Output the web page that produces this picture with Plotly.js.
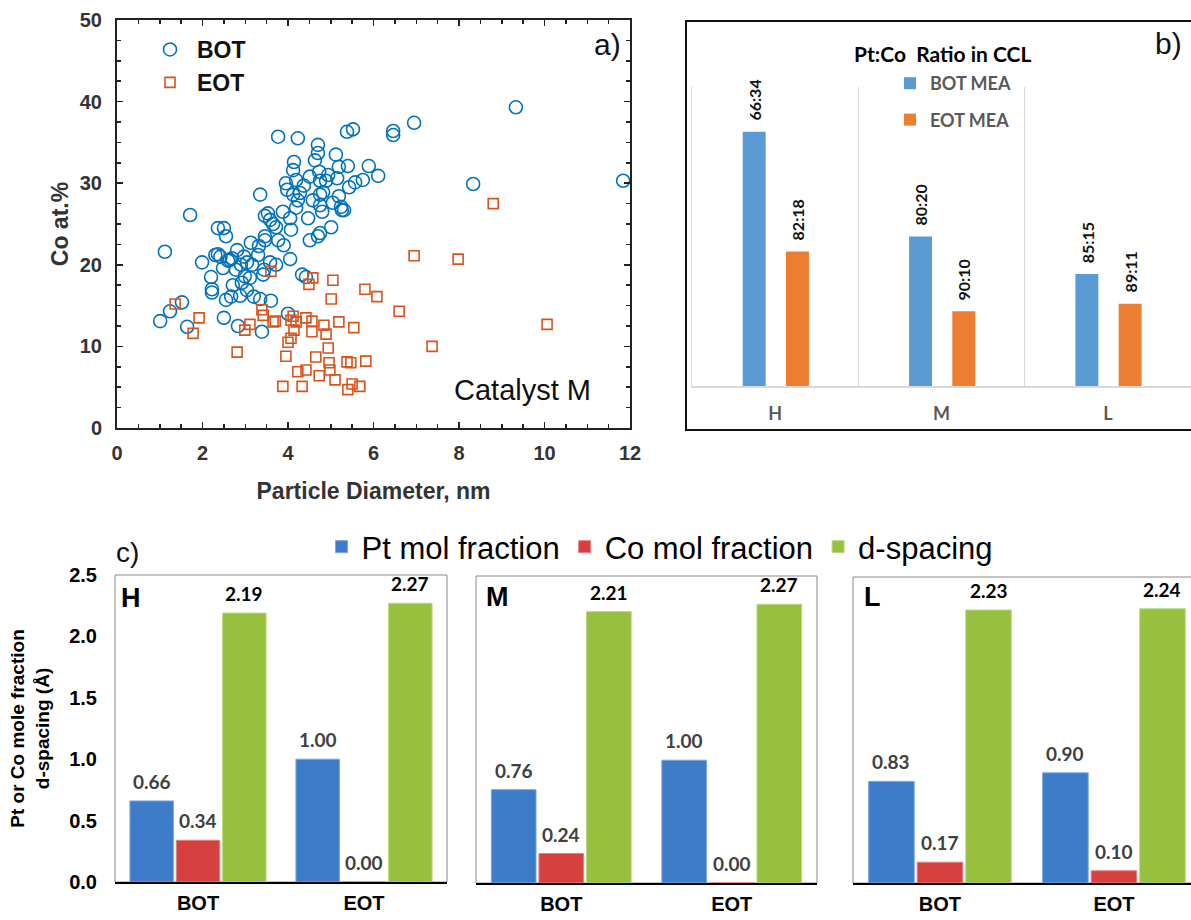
<!DOCTYPE html>
<html><head><meta charset="utf-8">
<script src="https://cdn.plot.ly/plotly-3.0.1.min.js"></script>
<style>html,body{margin:0;padding:0;background:#fff}</style>
</head><body><div id="chart" style="width:1191px;height:920px"></div>
<script>
// ---------- Panel a: Co at.% vs particle diameter (Catalyst M) ----------
const botDiameter = [1.01,1.24,1.52,1.64,1.12,1.71,1.99,2.20,2.22,2.22,2.36,2.36,2.48,2.50,2.55,2.55,2.50,2.64,2.67,2.69,
  2.71,2.78,2.81,2.83,2.88,2.90,2.92,2.97,2.99,3.04,3.04,3.11,3.13,3.16,3.20,3.30,3.32,3.35,3.39,3.44,
  3.46,3.46,3.35,3.42,3.46,3.53,3.58,3.58,3.60,3.65,3.72,3.77,3.77,3.72,3.88,3.95,3.98,4.00,4.05,4.07,
  4.12,4.14,4.12,4.19,4.23,4.23,4.19,4.28,4.33,4.37,4.42,4.47,4.51,4.51,4.58,4.63,4.70,4.70,4.73,4.75,
  4.75,4.75,4.70,4.75,4.80,4.82,4.89,4.94,5.01,5.05,5.12,5.15,5.19,5.19,5.24,5.26,5.31,5.38,5.40,5.43,
  5.52,5.57,5.75,5.89,6.11,6.46,6.46,6.95,8.33,9.33,11.84,2.42,3.90,4.05,2.30,2.60];
const botCo = [13.1,14.3,15.4,12.4,21.6,26.1,20.3,18.5,17.0,16.6,24.5,21.3,19.6,24.5,23.5,15.7,13.5,20.6,16.1,20.8,
  17.5,19.4,21.8,12.5,16.2,20.0,17.8,21.0,18.6,16.9,20.3,18.4,22.7,20.0,16.1,21.2,22.3,15.8,11.8,19.4,
  23.5,23.0,28.6,18.8,26.0,26.3,25.5,20.3,15.6,25.0,24.6,35.7,23.0,20.0,26.5,30.0,29.2,14.0,25.7,24.3,
  31.6,32.6,28.6,30.4,35.5,27.9,27.0,28.8,18.8,29.7,18.5,25.7,23.0,30.8,27.9,32.8,34.7,33.7,31.4,30.3,
  28.6,27.3,23.5,23.9,26.5,28.9,30.3,31.0,24.6,27.6,33.5,30.6,32.0,28.4,27.1,26.7,26.7,36.3,32.1,29.5,
  36.6,30.1,30.4,32.1,30.9,35.9,36.4,37.4,29.9,39.3,30.3,21.0,22.4,20.7,21.2,20.5];
const eotDiameter = [1.36,1.78,1.92,2.81,2.99,3.11,3.39,3.42,3.65,3.60,3.70,3.88,3.95,4.00,4.07,4.07,4.12,4.14,4.19,4.23,
  4.33,4.42,4.42,4.49,4.58,4.56,4.56,4.65,4.73,4.84,4.89,4.94,4.96,4.98,5.01,5.05,5.10,5.19,5.38,5.40,
  5.47,5.50,5.54,5.68,5.80,5.82,6.08,6.60,6.95,7.37,7.98,8.80,10.06];
const eotCo = [15.2,11.6,13.5,9.3,12.0,12.7,14.5,13.8,13.0,19.2,13.1,5.1,8.8,10.5,13.2,11.0,13.7,12.0,13.0,6.9,
  5.1,7.1,13.5,17.6,18.4,13.1,11.8,8.7,6.4,12.6,11.5,9.8,8.0,7.1,15.8,18.1,5.9,13.0,8.1,4.7,
  8.0,5.4,12.3,5.1,17.0,8.2,16.1,14.3,21.1,10.0,20.7,27.5,12.7];

// ---------- Panel b: Pt:Co ratio in CCL ----------
const ccCategories = ['H','M','L'];
const ccBotCo = [34, 20, 15];
const ccEotCo = [18, 10, 11];
const ccBotLabels = ['66:34','80:20','85:15'];
const ccEotLabels = ['82:18','90:10','89:11'];

// ---------- Panel c: mole fractions and d-spacing ----------
const stages = ['BOT','EOT'];
const ptH = [0.66, 1.00], coH = [0.34, 0.00], dH = [2.19, 2.27];
const ptM = [0.76, 1.00], coM = [0.24, 0.00], dM = [2.21, 2.27];
const ptL = [0.83, 0.90], coL = [0.17, 0.10], dL = [2.23, 2.24];

const W = 1191, H = 920;
const px = v => v / W, py = v => 1 - v / H;
const SANS = 'Liberation Sans, Arial, sans-serif';
const CAL = 'Lato, Liberation Sans, sans-serif';

const traces = [];
traces.push({type:'scatter', mode:'markers', x: botDiameter, y: botCo, name:'BOT', xaxis:'x', yaxis:'y', legend:'legend',
  marker:{symbol:'circle-open', size:13, color:'#0072BD', line:{width:1.6, color:'#0072BD'}}});
traces.push({type:'scatter', mode:'markers', x: eotDiameter, y: eotCo, name:'EOT', xaxis:'x', yaxis:'y', legend:'legend',
  marker:{symbol:'square-open', size:10, color:'#D95319', line:{width:1.6, color:'#D95319'}}});

// panel b bars
const bW = 0.138, bOffBot = -0.195, bOffEot = 0.065;
traces.push({type:'bar', x: ccCategories, y: ccBotCo, name:'BOT MEA', xaxis:'x2', yaxis:'y2', legend:'legend2', legendgroup:'g1',
  width: bW, offset: bOffBot, marker:{color:'#5b9bd5'}});
traces.push({type:'bar', x: ccCategories, y: ccEotCo, name:'EOT MEA', xaxis:'x2', yaxis:'y2', legend:'legend2', legendgroup:'g2',
  width: bW, offset: bOffEot, marker:{color:'#ed7d31'}});

// panel c bars
const cW = 0.262;
const cSeries = [
  {name:'Pt mol fraction', color:'#3d7cc9', edge:'#79a7e0', off:-0.41, lab:'#404040'},
  {name:'Co mol fraction', color:'#d6403f', edge:'#e88080', off:-0.131, lab:'#404040'},
  {name:'d-spacing', color:'#98c03f', edge:'#bcd87d', off:0.148, lab:'#000000'}
];
const cPanels = [
  {tag:'H', vals:[ptH, coH, dH], xa:'x3', ya:'y3'},
  {tag:'M', vals:[ptM, coM, dM], xa:'x4', ya:'y4'},
  {tag:'L', vals:[ptL, coL, dL], xa:'x5', ya:'y5'}
];
cPanels.forEach((p, pi) => {
  cSeries.forEach((s, si) => {
    traces.push({type:'bar', x: stages, y: p.vals[si], name: s.name, xaxis: p.xa, yaxis: p.ya,
      legend:'legend3', showlegend: pi === 0, width: cW, offset: s.off,
      marker:{color: s.color, line:{color: s.edge, width:1}}});
  });
});

// annotations
const ann = [];
const paperNote = (text, x, y, font) => ({text, xref:'paper', yref:'paper', x: px(x), y: py(y), xanchor:'center', yanchor:'middle', showarrow:false, font});
ann.push(paperNote('a)', 607, 45, {family:SANS, size:30, color:'#111'}));
ann.push(paperNote('Catalyst M', 522, 390, {family:SANS, size:29, color:'#111'}));
ann.push(paperNote('Pt:Co  Ratio in CCL', 942, 53, {family:CAL, size:21, color:'#000', weight:'bold'}));
ann.push(paperNote('b)', 1168, 43, {family:SANS, size:30, color:'#111'}));
ann.push(paperNote('c)', 127, 552, {family:SANS, size:28, color:'#111'}));

ccCategories.forEach((c, i) => {
  ann.push({text: ccBotLabels[i], xref:'x2', yref:'y2', x: i + bOffBot + bW/2, y: ccBotCo[i], xanchor:'center', yanchor:'bottom', yshift:9,
    textangle:-90, showarrow:false, font:{family:CAL, size:16, color:'#111', weight:'bold'}});
  ann.push({text: ccEotLabels[i], xref:'x2', yref:'y2', x: i + bOffEot + bW/2, y: ccEotCo[i], xanchor:'center', yanchor:'bottom', yshift:9,
    textangle:-90, showarrow:false, font:{family:CAL, size:16, color:'#111', weight:'bold'}});
});

const tagPos = {H:[131,598], M:[497,597], L:[872,597]};
cPanels.forEach(p => {
  ann.push(paperNote(p.tag, tagPos[p.tag][0], tagPos[p.tag][1], {family:SANS, size:27, color:'#000', weight:'bold'}));
  cSeries.forEach((s, si) => {
    p.vals[si].forEach((v, k) => {
      ann.push({text: v.toFixed(2), xref: p.xa, yref: p.ya, x: k + s.off + cW/2, y: v, xanchor:'center', yanchor:'bottom', yshift:6,
        showarrow:false, font:{family:CAL, size:19, color: s.lab, weight:'bold'}});
    });
  });
});

const shapes = [
  {type:'rect', xref:'paper', yref:'paper', x0: px(686), x1: 1.01, y0: py(430), y1: py(21), line:{color:'#111', width:2}, layer:'below'},
  {type:'rect', xref:'paper', yref:'paper', x0: px(115), x1: px(447), y0: py(882), y1: py(575), line:{color:'#8a8a8a', width:1}, layer:'below'},
  {type:'rect', xref:'paper', yref:'paper', x0: px(476), x1: px(817), y0: py(883), y1: py(576), line:{color:'#8a8a8a', width:1}, layer:'below'},
  {type:'rect', xref:'paper', yref:'paper', x0: px(853), x1: 1.01, y0: py(883), y1: py(577), line:{color:'#8a8a8a', width:1}, layer:'below'}
];

const tickA = {family:SANS, size:20, color:'#333', weight:'bold'};
const cX = (dom, range) => ({domain: dom, type:'category', range: range, showline:true, linecolor:'#000', linewidth:2,
  ticks:'', showgrid:false, zeroline:false, tickfont:{family:SANS, size:20, color:'#000', weight:'bold'}, ticklabelstandoff:2, fixedrange:true});
const cY = (dom, labels) => ({domain: dom, range:[0,2.5], dtick:0.5, tickformat:'.1f', showgrid:false, zeroline:false,
  showline:false, showticklabels: labels, ticks:'', tickfont:{family:SANS, size:20, color:'#000', weight:'bold'}, ticklabelstandoff:17});

const layout = {
  width: W, height: H, margin:{l:0, r:0, t:0, b:0}, paper_bgcolor:'#fff', plot_bgcolor:'rgba(0,0,0,0)',
  barmode:'overlay', showlegend:true, annotations: ann, shapes: shapes,
  xaxis:{domain:[px(117), px(630)], anchor:'y', range:[0,12], dtick:2, ticks:'inside', ticklen:6, tickwidth:1.5, tickcolor:'#222',
    minor:{dtick:0.5, ticks:'inside', ticklen:4, tickwidth:1.5, tickcolor:'#222'},
    showline:true, mirror:'ticks', linecolor:'#222', linewidth:2, showgrid:false, zeroline:false, tickfont:tickA, ticklabelstandoff:6,
    title:{text:'Particle Diameter, nm', font:{family:SANS, size:23, color:'#333', weight:'bold'}, standoff:20}},
  yaxis:{domain:[py(428), py(20)], anchor:'x', range:[0,50], dtick:10, ticks:'inside', ticklen:6, tickwidth:1.5, tickcolor:'#222',
    minor:{dtick:2.5, ticks:'inside', ticklen:4, tickwidth:1.5, tickcolor:'#222'},
    showline:true, mirror:'ticks', linecolor:'#222', linewidth:2, showgrid:false, zeroline:false, tickfont:tickA, ticklabelstandoff:9,
    title:{text:'Co at.%', font:{family:SANS, size:23, color:'#333', weight:'bold'}, standoff:5}},
  xaxis2:{domain:[px(692), 1], anchor:'y2', type:'category', range:[-0.5, 2.5], tickson:'boundaries', showgrid:true, gridcolor:'#d9d9d9',
    gridwidth:1.5, showline:true, linecolor:'#d9d9d9', linewidth:2, ticks:'', zeroline:false,
    tickfont:{family:CAL, size:18, color:'#595959', weight:'bold'}, ticklabelstandoff:10},
  yaxis2:{domain:[py(386), py(87)], anchor:'x2', range:[0,40], showgrid:false, zeroline:false, showticklabels:false, ticks:'',
    showline:true, linecolor:'#d9d9d9', linewidth:1.5},
  xaxis3: Object.assign(cX([px(115), px(447)], [-0.5, 1.5]), {anchor:'y3'}),
  yaxis3: Object.assign(cY([py(882), py(575)], true), {anchor:'x3',
    title:{text:'Pt or Co mole fraction<br>d-spacing (Å)', font:{family:SANS, size:19, color:'#000', weight:'bold'}, standoff:14}}),
  xaxis4: Object.assign(cX([px(476), px(817)], [-0.5, 1.5]), {anchor:'y4'}),
  yaxis4: Object.assign(cY([py(883), py(576)], false), {anchor:'x4'}),
  xaxis5: Object.assign(cX([px(853), 1], [-0.5, 1.443]), {anchor:'y5'}),
  yaxis5: Object.assign(cY([py(883), py(577)], false), {anchor:'x5'}),
  legend:{x: px(143), y: py(28), xanchor:'left', yanchor:'top', bgcolor:'rgba(0,0,0,0)', itemwidth:44,
    font:{family:SANS, size:23, color:'#111', weight:'bold'}},
  legend2:{x: px(890), y: py(65), xanchor:'left', yanchor:'top', bgcolor:'rgba(0,0,0,0)', traceorder:'grouped', tracegroupgap:10,
    font:{family:CAL, size:18, color:'#595959', weight:'bold'}},
  legend3:{orientation:'h', x: px(660), y: py(547), xanchor:'center', yanchor:'middle', bgcolor:'rgba(0,0,0,0)',
    font:{family:SANS, size:31, color:'#000'}}
};

Plotly.newPlot('chart', traces, layout, {staticPlot:true, displayModeBar:false});
</script></body></html>
